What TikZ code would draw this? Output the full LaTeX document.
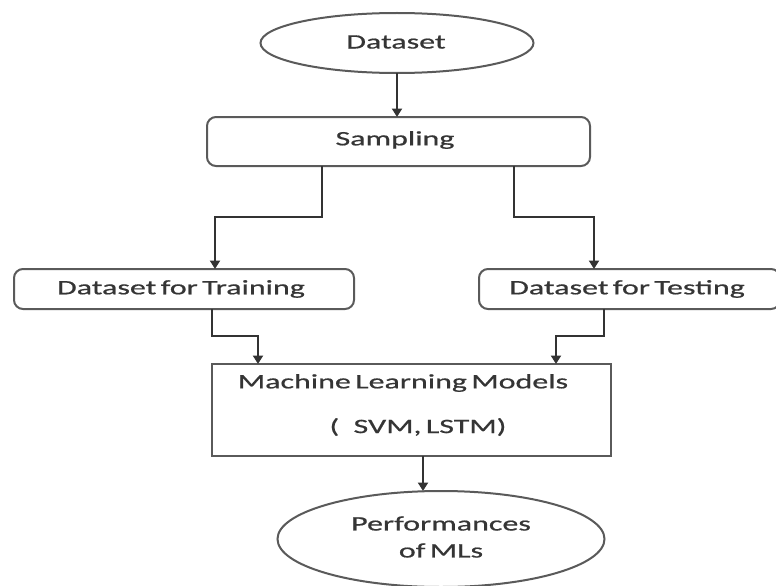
\documentclass[tikz,border=0pt]{standalone}
\usepackage{fontspec}
\setmainfont{Carlito}[FakeStretch=1.56,FakeBold=0.7,WordSpace=0.6]
\usetikzlibrary{shapes.geometric,arrows.meta}
\definecolor{boxline}{HTML}{5A5A5A}
\definecolor{arrline}{HTML}{333333}
\definecolor{txt}{HTML}{353535}
\begin{document}
\begin{tikzpicture}[x=1pt,y=-1pt,
  every node/.style={inner sep=0pt,outer sep=0pt,text=txt,font=\fontsize{20.5}{27}\selectfont},
  oval/.style={ellipse,draw=boxline,line width=2pt,fill=white},
  rbox/.style={rectangle,rounded corners=9pt,draw=boxline,line width=2pt,fill=white},
  sbox/.style={rectangle,draw=boxline,line width=2pt,fill=white},
  arr/.style={draw=arrline,line width=2pt,-{Triangle[width=10pt,length=8.5pt]}},
  label/.style={draw=none,fill=none}]
\useasboundingbox (0,0) rectangle (776,586);
\fill[white] (0,0) rectangle (776,586);

\node[oval,minimum width=273pt,minimum height=60pt] (ds) at (397,43) {};
\node[label] (dst) at (396,42) {Dataset};

\node[rbox,minimum width=383pt,minimum height=49pt] (samp) at (398.5,141.5) {};
\node[label] (sampt) at (395,140) {Sampling};

\node[rbox,minimum width=340pt,minimum height=40pt] (train) at (184,289) {};
\node[label] (traint) at (181,289) {Dataset for Training};

\node[rbox,minimum width=301pt,minimum height=40pt] (test) at (629.5,289) {};
\node[label] (testt) at (627,289) {Dataset for Testing};

\node[sbox,minimum width=399pt,minimum height=92pt] (ml) at (411.5,410) {};
\node[label] (mlt1) at (403,383) {Machine Learning Models};
\node[label] (mlt2) at (418,427) {(\hspace{0.7em}SVM, LSTM)};

\node[oval,minimum width=327pt,minimum height=96pt] (perf) at (441,539) {};
\node[label,align=center] (perft) at (441,537) {Performances\\of MLs};

\draw[arr] (ds.south) -- (ds.south |- samp.north);
\draw[arr] ([xshift=-76.5pt]samp.south) -- ++(0,51) -| ([xshift=31pt]train.north);
\draw[arr] ([xshift=115.5pt]samp.south) -- ++(0,51) -| ([xshift=-35.5pt]test.north);
\draw[arr] ([xshift=28pt]train.south) -- ++(0,27) -| ([xshift=-153.5pt]ml.north);
\draw[arr] ([xshift=-25.5pt]test.south) -- ++(0,27) -| ([xshift=144.5pt]ml.north);
\draw[arr] ([xshift=11.5pt]ml.south) -- ([xshift=11.5pt]ml.south |- perf.north);
\end{tikzpicture}
\end{document}
